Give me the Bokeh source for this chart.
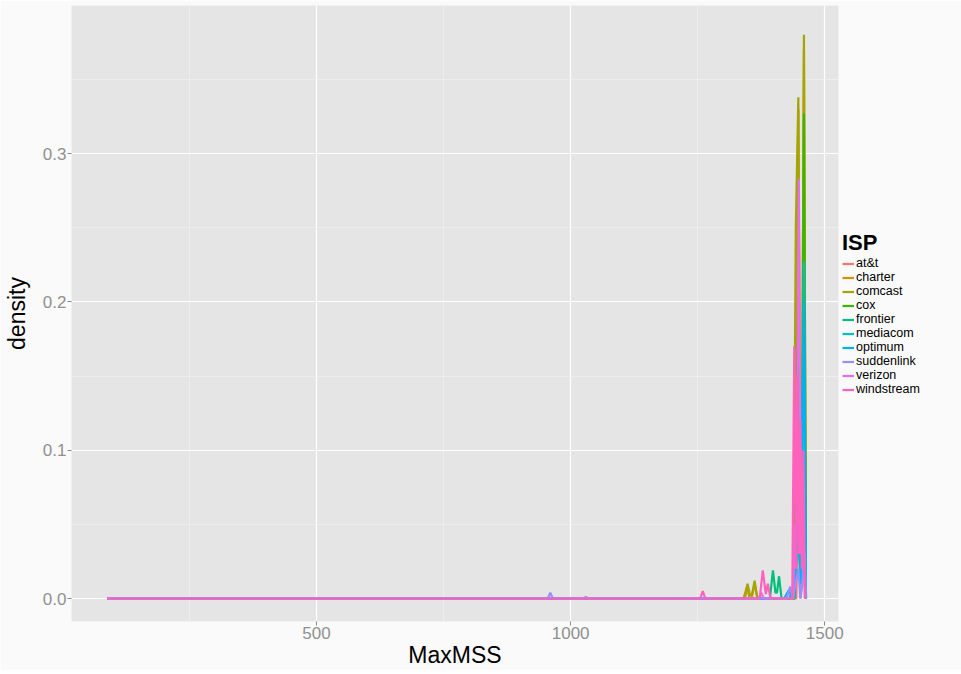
from bokeh.plotting import figure
from bokeh.models import FixedTicker, Legend, LegendItem, Range1d
from bokeh.embed import file_html
from bokeh.resources import INLINE

isps = ["at&t", "charter", "comcast", "cox", "frontier", "mediacom",
        "optimum", "suddenlink", "verizon", "windstream"]
colors = ["#F8766D", "#D89000", "#A3A500", "#39B600", "#00BF7D", "#00BFC4",
          "#00B0F6", "#9590FF", "#E76BF3", "#FF62BC"]

att_x = [88, 1430, 1444, 1448, 1452, 1455, 1458, 1462]
att_y = [0, 0, 0, 0.08, 0, 0.01, 0.05, 0]
charter_x = [88, 1340, 1347, 1352, 1356, 1362, 1368, 1440, 1444, 1448, 1452, 1455, 1459, 1463]
charter_y = [0, 0, 0.008, 0, 0, 0.010, 0, 0, 0.2, 0.33, 0.05, 0.1, 0.37, 0]
comcast_x = [88, 1343, 1348, 1353, 1357, 1362, 1367, 1438, 1443, 1448, 1452, 1455, 1459, 1463]
comcast_y = [0, 0, 0.010, 0.002, 0.003, 0.012, 0, 0, 0.25, 0.338, 0.04, 0.08, 0.38, 0]
cox_x = [88, 1440, 1444, 1448, 1452, 1455, 1459, 1463]
cox_y = [0, 0, 0.1, 0.2, 0.02, 0.05, 0.327, 0]
frontier_x = [88, 1392, 1398, 1403, 1406, 1410, 1415, 1440, 1448, 1452, 1459, 1463]
frontier_y = [0, 0, 0.019, 0.004, 0.004, 0.015, 0, 0, 0.05, 0.01, 0.1, 0]
mediacom_x = [88, 1430, 1435, 1440, 1448, 1453, 1459, 1463]
mediacom_y = [0, 0, 0.004, 0, 0.06, 0.01, 0.227, 0]
optimum_x = [88, 1420, 1425, 1430, 1435, 1448, 1453, 1459, 1463]
optimum_y = [0, 0, 0.003, 0.006, 0, 0.05, 0.01, 0.2, 0]
suddenlink_x = [88, 955, 960, 965, 1025, 1030, 1035, 1425, 1432, 1437, 1448, 1452, 1456, 1460, 1463]
suddenlink_y = [0, 0, 0.004, 0, 0, 0.001, 0, 0, 0.008, 0, 0.02, 0, 0.01, 0.03, 0]
verizon_x = [88, 1370, 1375, 1380, 1438, 1441, 1444, 1449, 1453, 1457, 1461]
verizon_y = [0, 0, 0.004, 0, 0, 0.05, 0.02, 0.283, 0.03, 0.06, 0]
windstream_x = [88, 1255, 1260, 1265, 1372, 1378, 1384, 1388, 1392, 1396,
                1436, 1440, 1443, 1446, 1449, 1452, 1455, 1458, 1461]
windstream_y = [0, 0, 0.005, 0, 0, 0.019, 0.003, 0.010, 0.002, 0,
                0, 0.17, 0.02, 0.15, 0.03, 0.12, 0.02, 0.10, 0]

series_x = [att_x, charter_x, comcast_x, cox_x, frontier_x, mediacom_x,
            optimum_x, suddenlink_x, verizon_x, windstream_x]
series_y = [att_y, charter_y, comcast_y, cox_y, frontier_y, mediacom_y,
            optimum_y, suddenlink_y, verizon_y, windstream_y]

x_ticks = [500, 1000, 1500]
x_minor = [250, 750, 1250]
y_ticks = [0.0, 0.1, 0.2, 0.3]
y_minor = [0.05, 0.15, 0.25, 0.35]
y_labels = {0.0: "0.0", 0.1: "0.1", 0.2: "0.2", 0.3: "0.3"}

FONT = "Liberation Sans"

p = figure(frame_width=767, frame_height=616, output_backend="svg", toolbar_location=None,
           x_range=Range1d(18, 1527), y_range=Range1d(-0.0155, 0.3998),
           min_border_left=71, min_border_right=118, min_border_top=5,
           min_border_bottom=0)
p.background_fill_color = "#E5E5E5"
p.border_fill_color = "#FAFAFA"
p.outline_line_color = None

p.xaxis.ticker = FixedTicker(ticks=x_ticks, minor_ticks=x_minor)
p.yaxis.ticker = FixedTicker(ticks=y_ticks, minor_ticks=y_minor)
p.yaxis.major_label_overrides = y_labels

for ax in (p.xaxis[0], p.yaxis[0]):
    ax.axis_line_color = None
    ax.major_tick_line_color = "#8a8a8a"
    ax.major_tick_out = 4
    ax.major_tick_in = 0
    ax.minor_tick_line_color = None
    ax.major_label_text_color = "#909090"
    ax.major_label_text_font = FONT
    ax.major_label_text_font_size = "17px"
    ax.major_label_standoff = 1
    ax.axis_label_text_font = FONT
    ax.axis_label_text_font_size = "23px"
    ax.axis_label_text_font_style = "normal"
    ax.axis_label_text_color = "#000000"
    ax.axis_label_standoff = 0

p.xaxis.axis_label = "MaxMSS"
p.yaxis.axis_label = "density"
p.yaxis.axis_label_standoff = 10

for g in (p.xgrid[0], p.ygrid[0]):
    g.grid_line_color = "white"
    g.grid_line_width = 1.2
    g.minor_grid_line_color = "#F2F2F2"
    g.minor_grid_line_width = 0.6

items = []
for name, col, xs, ys in zip(isps, colors, series_x, series_y):
    r = p.line(xs, ys, line_color=col, line_width=2.2)
    items.append(LegendItem(label=name, renderers=[r]))

legend = Legend(items=items, title="ISP", location="center_left")
legend.title_text_font = FONT
legend.title_text_font_size = "22px"
legend.title_text_font_style = "bold"
legend.title_text_color = "#000000"
legend.title_standoff = 0
legend.label_text_font = FONT
legend.label_text_font_size = "12.5px"
legend.label_text_color = "#000000"
legend.label_height = 11
legend.glyph_height = 11
legend.glyph_width = 12
legend.label_standoff = 2
legend.spacing = 0
legend.padding = 0
legend.margin = 4
legend.background_fill_alpha = 0
legend.border_line_alpha = 0
p.add_layout(legend, "right")

open("out.html", "w").write(file_html(p, INLINE))
